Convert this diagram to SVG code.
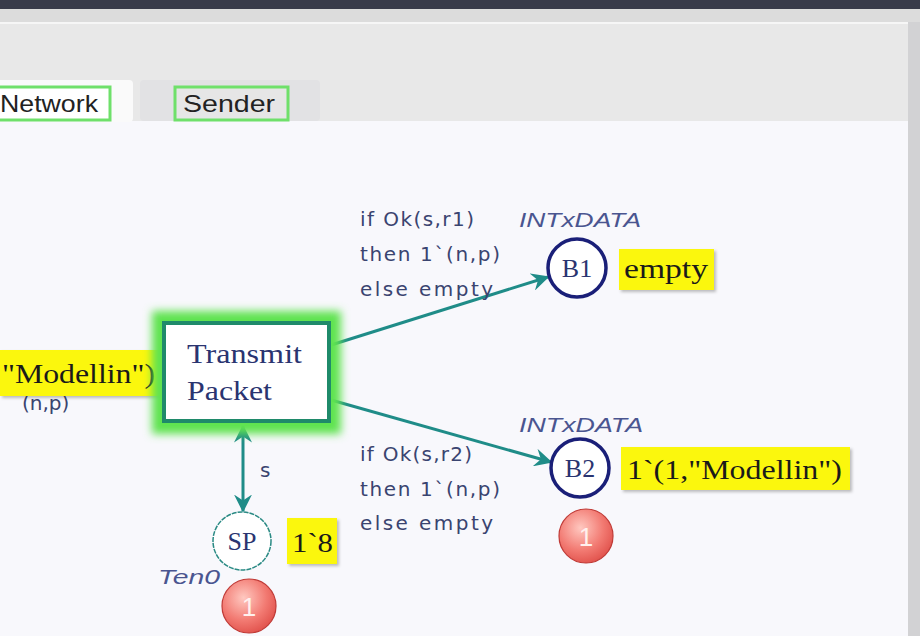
<svg xmlns="http://www.w3.org/2000/svg" width="920" height="636" viewBox="0 0 920 636">
<defs>
<style>
.lbl{font-family:"DejaVu Sans","Liberation Sans",sans-serif;font-size:20px;fill:#3a4470}
.typ{font-family:"Liberation Sans",Arial,sans-serif;font-size:20px;font-style:italic;fill:#4a5590}
.ser{font-family:"Liberation Serif","Times New Roman",serif;fill:#1a1a1a}
.name{font-family:"Liberation Serif","Times New Roman",serif;fill:#2a3470}
.arc{stroke:#1f8c88;stroke-width:3;fill:none}
.yel{fill:#fbf70c}
.tok{fill:url(#tokg);stroke:#c03a36;stroke-width:1.2}
.tabtxt{font-family:"Liberation Sans",Arial,sans-serif;font-size:24px;fill:#222}
</style>
<marker id="ah" viewBox="0 0 12 12" refX="11" refY="6" markerWidth="6" markerHeight="6" markerUnits="strokeWidth" orient="auto-start-reverse">
<path d="M0,0 L12,6 L0,12 L4,6 Z" fill="#1f8c88"/>
</marker>
<radialGradient id="tokg" cx="0.4" cy="0.35" r="0.7">
<stop offset="0" stop-color="#ffc8c0"/>
<stop offset="0.6" stop-color="#f27a72"/>
<stop offset="1" stop-color="#e0504a"/>
</radialGradient>
<filter id="glow" x="-20%" y="-20%" width="140%" height="140%">
<feGaussianBlur stdDeviation="4"/>
</filter>
<filter id="sh" x="-10%" y="-10%" width="130%" height="130%">
<feDropShadow dx="2" dy="2" stdDeviation="1.5" flood-color="#000" flood-opacity="0.25"/>
</filter>
</defs>

<!-- window chrome -->
<rect x="0" y="0" width="920" height="636" fill="#d6d6d6"/>
<rect x="0" y="0" width="920" height="9" fill="#383b4a"/>
<rect x="0" y="9" width="920" height="13" fill="#dcdcdc"/>
<rect x="0" y="22" width="908" height="614" fill="#e8e8e8"/>
<rect x="0" y="22" width="908" height="2" fill="#f6f6f6"/>
<rect x="0" y="121" width="908" height="515" fill="#f8f8fc"/>
<rect x="908" y="22" width="12" height="614" fill="#d2d2d4"/>

<!-- tabs -->
<g id="tab-network">
<rect x="-4" y="80" width="137" height="42" rx="4" fill="#fafafa"/>
<rect x="-4" y="87" width="114" height="33" fill="#ffffff" stroke="#6fe06a" stroke-width="3"/>
<text class="tabtxt" x="0" y="112" textLength="98" lengthAdjust="spacingAndGlyphs">Network</text>
</g>
<g id="tab-sender">
<rect x="140" y="80" width="180" height="41" rx="4" fill="#e2e2e4"/>
<rect x="175" y="87" width="113" height="33" fill="#e6e6e6" stroke="#6fe06a" stroke-width="3"/>
<text class="tabtxt" x="183" y="112" textLength="92" lengthAdjust="spacingAndGlyphs">Sender</text>
</g>

<!-- connectors -->
<g id="connectors">
<line class="arc" x1="331" y1="345" x2="548" y2="277" marker-end="url(#ah)"/>
<line class="arc" x1="331" y1="400" x2="551" y2="462" marker-end="url(#ah)"/>
<line class="arc" x1="243" y1="426" x2="243" y2="511" marker-start="url(#ah)" marker-end="url(#ah)"/>
<text class="lbl" x="260" y="477">s</text>
<text class="lbl" x="360" y="226" textLength="114" lengthAdjust="spacing">if Ok(s,r1)</text>
<text class="lbl" x="360" y="261" textLength="140" lengthAdjust="spacing">then 1`(n,p)</text>
<text class="lbl" x="360" y="296" textLength="133" lengthAdjust="spacing">else empty</text>
<text class="lbl" x="360" y="461" textLength="112" lengthAdjust="spacing">if Ok(s,r2)</text>
<text class="lbl" x="360" y="496" textLength="140" lengthAdjust="spacing">then 1`(n,p)</text>
<text class="lbl" x="360" y="530" textLength="133" lengthAdjust="spacing">else empty</text>
</g>

<!-- left marking (partial) -->
<g id="left-marking">
<text class="lbl" x="22" y="410">(n,p)</text>
<rect class="yel" x="0" y="350" width="163" height="46" filter="url(#sh)"/>
<text class="ser" x="2" y="383" font-size="27" textLength="153" lengthAdjust="spacingAndGlyphs">"Modellin")</text>
</g>

<!-- transition -->
<g id="transmit-packet">
<rect x="152" y="311" width="189" height="123" fill="#5fe34f" filter="url(#glow)"/>
<rect x="164" y="323" width="165" height="98" fill="#ffffff" stroke="#1f8a6a" stroke-width="4"/>
<text class="name" x="187" y="363" font-size="27" textLength="115" lengthAdjust="spacingAndGlyphs">Transmit</text>
<text class="name" x="187" y="400" font-size="27" textLength="85" lengthAdjust="spacingAndGlyphs">Packet</text>
</g>

<!-- B1 -->
<g id="place-B1">
<text class="typ" x="519" y="227" textLength="122" lengthAdjust="spacingAndGlyphs">INTxDATA</text>
<circle cx="577" cy="268" r="29" fill="#ffffff" stroke="#1a1f78" stroke-width="3.5"/>
<text class="name" x="577" y="277" font-size="26" text-anchor="middle">B1</text>
<rect class="yel" x="619" y="249" width="95" height="41" filter="url(#sh)"/>
<text class="ser" x="624" y="278" font-size="27" textLength="84" lengthAdjust="spacingAndGlyphs">empty</text>
</g>

<!-- B2 -->
<g id="place-B2">
<text class="typ" x="519" y="432" textLength="124" lengthAdjust="spacingAndGlyphs">INTxDATA</text>
<circle cx="580" cy="468" r="29" fill="#ffffff" stroke="#1a1f78" stroke-width="3.5"/>
<text class="name" x="580" y="477" font-size="26" text-anchor="middle">B2</text>
<rect class="yel" x="621" y="447" width="229" height="43" filter="url(#sh)"/>
<text class="ser" x="627" y="479" font-size="27" textLength="215" lengthAdjust="spacingAndGlyphs">1`(1,"Modellin")</text>
<circle class="tok" cx="586" cy="536" r="27"/>
<text x="586" y="546" font-family="Liberation Sans, sans-serif" font-size="26" fill="#fff0ee" text-anchor="middle">1</text>
</g>

<!-- SP -->
<g id="place-SP">
<circle cx="242" cy="541" r="29" fill="#ffffff" stroke="#2a8a84" stroke-width="1.5" stroke-dasharray="5 1"/>
<text class="name" x="242" y="550" font-size="26" text-anchor="middle" fill="#222">SP</text>
<rect class="yel" x="287" y="518" width="50" height="46" filter="url(#sh)"/>
<text class="ser" x="292" y="552" font-size="27" textLength="41" lengthAdjust="spacingAndGlyphs">1`8</text>
<text class="typ" x="158" y="584" textLength="62" lengthAdjust="spacingAndGlyphs">Ten0</text>
<circle class="tok" cx="249" cy="606" r="27"/>
<text x="249" y="616" font-family="Liberation Sans, sans-serif" font-size="26" fill="#fff0ee" text-anchor="middle">1</text>
</g>
</svg>
